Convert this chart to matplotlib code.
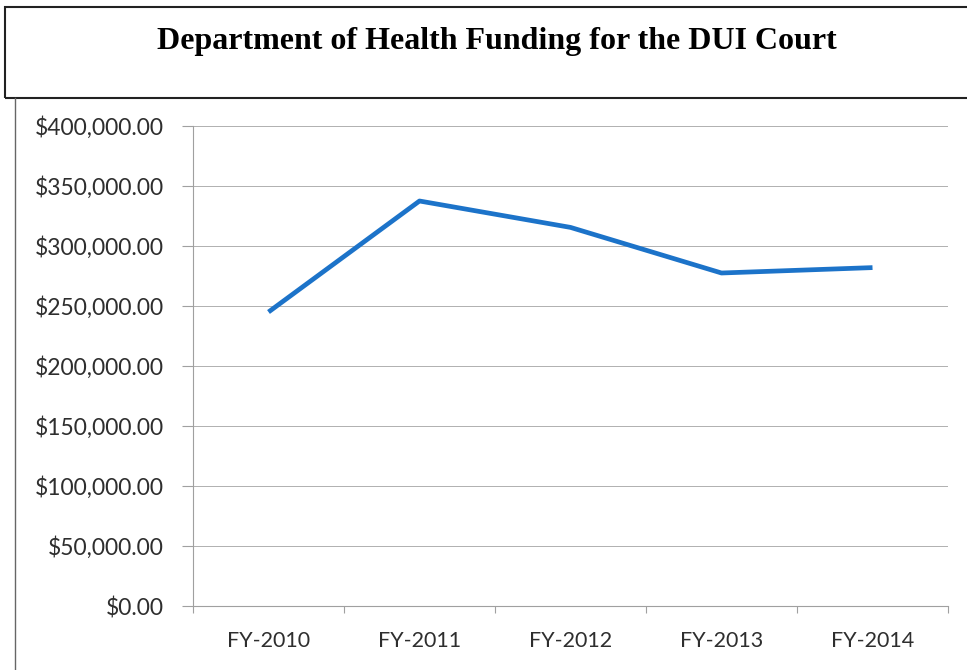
import matplotlib
matplotlib.use("Agg")
import matplotlib.pyplot as plt
from matplotlib.patches import Rectangle
from matplotlib.lines import Line2D
from matplotlib.ticker import FuncFormatter, FixedLocator

years = ["FY-2010", "FY-2011", "FY-2012", "FY-2013", "FY-2014"]
funding = [245000, 337500, 315500, 277500, 282000]
y_ticks = [0, 50000, 100000, 150000, 200000, 250000, 300000, 350000, 400000]

W, H = 967, 670
fig = plt.figure(figsize=(W / 100, H / 100), dpi=100)

# header box with the title
fig.patches.append(Rectangle((5 / W, 1 - 98 / H), 970 / W, 91 / H, transform=fig.transFigure,
                             fill=False, edgecolor="#222222", linewidth=1.5, clip_on=False))
fig.lines.append(Line2D([15 / W, 15 / W], [0, 1 - 98 / H], transform=fig.transFigure,
                        color="#666666", linewidth=1.0))
fig.text(497 / W, 1 - 41 / H, "Department of Health Funding for the DUI Court",
         ha="center", va="center", family="Liberation Serif", weight="bold", fontsize=23)

ax = fig.add_axes([193 / W, 1 - 606 / H, (948 - 193) / W, (606 - 126) / H])
x = range(len(years))
ax.plot(x, funding, color="#1c73c9", linewidth=3.4, solid_capstyle="butt")

ax.set_xlim(-0.5, len(years) - 0.5)
ax.set_ylim(0, 400000)
ax.set_yticks(y_ticks)
ax.yaxis.set_major_formatter(FuncFormatter(lambda v, p: "${:,.2f}".format(v)))
ax.set_xticks(list(x))
ax.set_xticklabels(years)
ax.xaxis.set_minor_locator(FixedLocator([i - 0.5 for i in range(len(years) + 1)]))

ax.grid(axis="y", color="#b0b0b0", linewidth=0.7)
ax.set_axisbelow(True)
for s in ["top", "right"]:
    ax.spines[s].set_visible(False)
for s in ["left", "bottom"]:
    ax.spines[s].set_color("#a0a0a0")
    ax.spines[s].set_linewidth(0.8)

ax.tick_params(axis="y", length=8, width=0.8, color="#a0a0a0", pad=13,
               labelsize=16.5, labelcolor="#2e2e2e")
ax.tick_params(axis="x", which="major", length=0, pad=18, labelsize=15.5, labelcolor="#2e2e2e")
ax.tick_params(axis="x", which="minor", length=5, width=0.8, color="#a0a0a0")
for lab in ax.get_xticklabels() + ax.get_yticklabels():
    lab.set_family("Lato")

fig.savefig("out.png", dpi=100)
